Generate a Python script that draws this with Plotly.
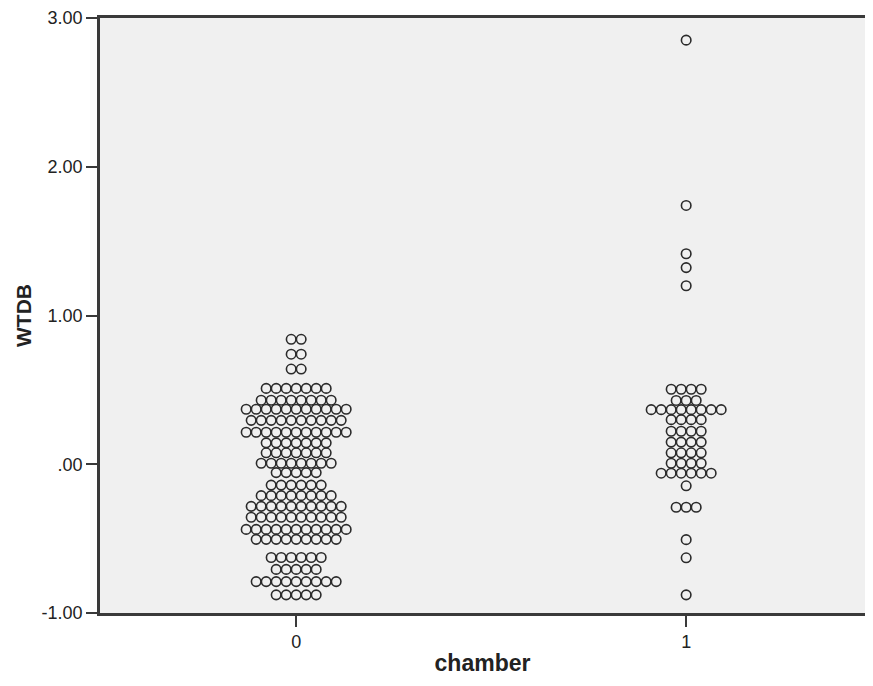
import plotly.graph_objects as go

# ---- data (stacked dot plot, SPSS style) ----
# chamber = 0 : WTDB value of each stacked row and number of dots in that row
wtdb_rows_0 = [0.84, 0.74, 0.64, 0.51, 0.43, 0.37, 0.295, 0.215, 0.144, 0.077, 0.007,
               -0.056, -0.14, -0.211, -0.283, -0.356, -0.438, -0.505,
               -0.627, -0.707, -0.789, -0.878]
counts_0 = [2, 2, 2, 7, 8, 11, 10, 11, 7, 7, 8,
            5, 6, 8, 10, 10, 11, 9,
            6, 5, 9, 5]

# chamber = 1
wtdb_rows_1 = [2.851, 1.74, 1.415, 1.322, 1.2,
               0.504, 0.429, 0.367, 0.30, 0.222, 0.149, 0.077, 0.007, -0.06,
               -0.145, -0.289, -0.507, -0.629, -0.878]
counts_1 = [1, 1, 1, 1, 1,
            4, 3, 8, 4, 4, 4, 4, 4, 6,
            1, 3, 1, 1, 1]

categories = [0, 1]
y_tick_vals = [-1, 0, 1, 2, 3]
y_tick_text = ["-1.00", ".00", "1.00", "2.00", "3.00"]
x_tick_text = ["0", "1"]

DOT_STEP = 10 / 390.0  # horizontal spacing of stacked dots (x units)


def expand(center, rows, counts):
    xs, ys = [], []
    for v, n in zip(rows, counts):
        for i in range(n):
            xs.append(center + (i - (n - 1) / 2) * DOT_STEP)
            ys.append(v)
    return xs, ys


fig = go.Figure()
for cat, rows, cnts in [(categories[0], wtdb_rows_0, counts_0),
                        (categories[1], wtdb_rows_1, counts_1)]:
    xs, ys = expand(cat, rows, cnts)
    fig.add_trace(go.Scatter(
        x=xs, y=ys, mode="markers",
        marker=dict(symbol="circle-open", size=9.5, color="#2b2b2b",
                    line=dict(width=1.6, color="#2b2b2b")),
        showlegend=False, hoverinfo="y",
    ))

font_family = "Liberation Sans, Arial, sans-serif"

# page body has an 8px default margin -> figure sized to fit 873x686 exactly
fig.update_layout(
    width=857, height=670,
    margin=dict(l=92, r=0, t=7, b=65),
    paper_bgcolor="white",
    plot_bgcolor="#F0F0F0",
    font=dict(family=font_family, size=18, color="#222222"),
    showlegend=False,
)

fig.update_xaxes(
    range=[-0.503, -0.503 + 765 / 390.0],
    tickvals=categories, ticktext=x_tick_text,
    showgrid=False, zeroline=False,
    showline=True, linecolor="#3a3a3a", linewidth=2.7, mirror=True,
    ticks="outside", ticklen=11, tickwidth=1.8, tickcolor="#3a3a3a",
    tickfont=dict(size=18, color="#222222"),
    title=dict(text="<b>chamber</b>", font=dict(size=23, color="#222222"), standoff=4),
)

fig.update_yaxes(
    range=[-1, 3],
    tickvals=y_tick_vals, ticktext=y_tick_text,
    showgrid=False, zeroline=False,
    showline=True, linecolor="#3a3a3a", linewidth=2.7,
    ticks="outside", ticklen=11, tickwidth=1.8, tickcolor="#3a3a3a",
    tickfont=dict(size=18, color="#222222"),
    ticklabeloverflow="allow",
    title=dict(text="<b>WTDB</b>", font=dict(size=21, color="#222222"), standoff=5),
)

fig.write_html("out.html")
